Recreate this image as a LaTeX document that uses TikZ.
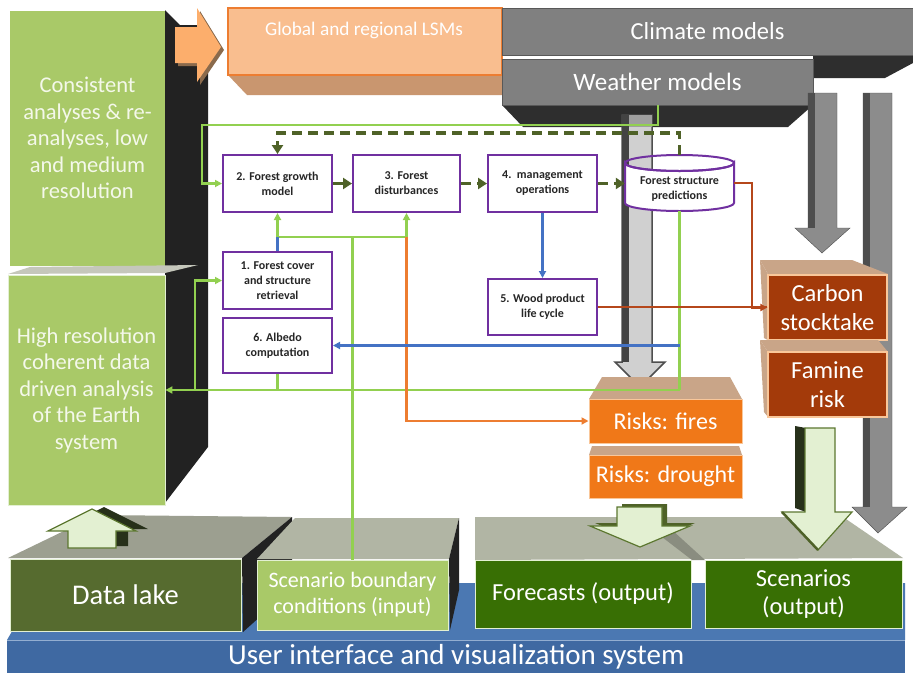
\documentclass[tikz,border=0pt]{standalone}
\usepackage{fontspec}
\setmainfont{Carlito}
\usetikzlibrary{arrows.meta,calc}
\definecolor{lgreen}{HTML}{A9C968}
\definecolor{lgreenTxt}{HTML}{F4F8EA}
\definecolor{panel}{HTML}{222222}
\definecolor{lsmfill}{HTML}{F9BE8F}
\definecolor{lsmdraw}{HTML}{ED7D31}
\definecolor{lsmside}{HTML}{C9966F}
\definecolor{arrorange}{HTML}{FCAE6C}
\definecolor{arrshadow}{HTML}{8A6A4C}
\definecolor{gfront}{HTML}{808080}
\definecolor{gdark}{HTML}{2E2E2E}
\definecolor{proc}{HTML}{7030A0}
\definecolor{olivearr}{HTML}{4F6228}
\definecolor{glink}{HTML}{92D050}
\definecolor{blink}{HTML}{4472C4}
\definecolor{olink}{HTML}{ED7D31}
\definecolor{rlink}{HTML}{B5471B}
\definecolor{riskfill}{HTML}{F07818}
\definecolor{riskedge}{HTML}{F9C79A}
\definecolor{tanface}{HTML}{C9A588}
\definecolor{carbfill}{HTML}{A33A0A}
\definecolor{topface}{HTML}{B1B5A4}
\definecolor{dlfront}{HTML}{566B2F}
\definecolor{fcfront}{HTML}{386F04}
\definecolor{uiblue}{HTML}{3F69A2}
\definecolor{uitop}{HTML}{4B78B2}
\definecolor{paleg}{HTML}{E3F0D2}
\definecolor{arredge}{HTML}{5C7730}
\definecolor{arrdark}{HTML}{27301A}
\definecolor{bigarr}{HTML}{8C8C8C}
\definecolor{bigarrdk}{HTML}{4E4E4E}
\definecolor{cgray}{HTML}{D0D0D0}
\begin{document}
\begin{tikzpicture}[x=1pt,y=-1pt,
  big/.style={inner sep=0pt, align=center, text=white},
  pbox/.style={draw=proc, line width=2pt, fill=white, minimum width=109pt, minimum height=57pt, inner sep=0pt, align=center, text=black!85, font=\bfseries\fontsize{12}{15}\selectfont},
  oliv/.style={draw=olivearr, line width=3.8pt, -{Triangle[length=9pt,width=11pt]}},
  olivdash/.style={oliv, dash pattern=on 10pt off 6pt},
  gl/.style={draw=glink, line width=2.2pt},
  bl/.style={draw=blink, line width=2.2pt},
  ol/.style={draw=olink, line width=2.4pt},
  rl/.style={draw=rlink, line width=2.2pt},
  endtip/.style={-{Triangle[length=7pt,width=7pt]}},
  paleArrow/.style={fill=paleg, draw=arredge, line width=1.2pt},
]
\useasboundingbox (0,0) rectangle (913,673);
\fill[white] (0,0) rectangle (913,673);

% ---------- blue base ----------
\fill[uitop] (7,640) -- (40,583) -- (905,583) -- (905,640) -- cycle;
\node[big, fill=uiblue, minimum width=898pt, minimum height=33pt, anchor=north west,
      font=\fontsize{29}{34}\selectfont] (ui) at (7,640) {User interface and visualization system};
\draw[uitop!60!white, line width=1pt] (7,640) -- (905,640);

% ---------- bottom blocks ----------
\fill[topface!88!black] (8,558) -- (97,515) -- (292,517) -- (242,558) -- cycle;
\fill[panel] (242,558) -- (292,517) -- (292,588) -- (243,632) -- cycle;
\node[big, fill=dlfront, draw=paleg, line width=1pt, minimum width=231pt, minimum height=72pt,
      font=\fontsize{28.5}{33}\selectfont] (dl) at (125.5,595) {Data lake};

\fill[topface] (257,559) -- (295,518) -- (459,518) -- (449,559) -- cycle;
\fill[panel] (449,559) -- (459,518) -- (459,590) -- (450,630) -- cycle;
\node[big, fill=lgreen, draw=paleg, line width=1pt, minimum width=191pt, minimum height=70pt,
      font=\fontsize{22}{26}\selectfont] (sbc) at (352.5,595) {Scenario boundary\\conditions (input)};

\fill[topface] (475,560) -- (475,517) -- (843,517) -- (903,558) -- cycle;
\fill[topface!78!black] (662,537) -- (672,530) -- (705,560) -- (692,560) -- cycle;
\node[big, fill=fcfront, draw=paleg, line width=1pt, minimum width=216pt, minimum height=68pt,
      font=\fontsize{24.5}{28}\selectfont] (fc) at (583,594) {Forecasts (output)};
\node[big, fill=fcfront, draw=paleg, line width=1pt, minimum width=197pt, minimum height=68pt,
      font=\fontsize{24.5}{28}\selectfont] (sc) at (803.5,594) {Scenarios\\(output)};

% ---------- left panel ----------
\fill[panel] (165,10) -- (180,25) -- (208,25) -- (208,447) -- (165,503) -- cycle;
\node[big, fill=lgreen, minimum width=155pt, minimum height=255pt, text=lgreenTxt,
      font=\fontsize{22.5}{26.5}\selectfont] (ca) at (87.5,138) {Consistent\\analyses \& re-\\analyses, low\\and medium\\resolution};
\fill[topface!75!white] (8,274) -- (30,267) -- (198,265) -- (165,273) -- cycle;
\node[big, fill=lgreen, draw=paleg, line width=0.8pt, minimum width=157pt, minimum height=230pt, text=lgreenTxt,
      font=\fontsize{22.5}{26.5}\selectfont] (hr) at (86.5,390) {High resolution\\coherent data\\driven analysis\\of the Earth\\system};

% ---------- orange arrow and LSM ----------
\fill[arrshadow] (178,30) -- (200,30) -- (200,11) -- (224,50) -- (200,85) -- (200,66) -- (178,66) -- cycle;
\fill[arrorange] (175,27) -- (197,27) -- (197,8) -- (221,47) -- (197,82) -- (197,63) -- (175,63) -- cycle;
\fill[lsmside] (228,75) -- (247,95) -- (502,95) -- (502,75) -- cycle;
\node[draw=lsmdraw, fill=lsmfill, line width=1.2pt, minimum width=274pt, minimum height=67pt, inner sep=0pt] (lsm) at (365,41.5) {};
\node[big, font=\fontsize{19.3}{22}\selectfont] (lsmtxt) at (364,30) {Global and regional LSMs};

% ---------- climate / weather ----------
\fill[gdark] (813,55) -- (913,55) -- (913,63) -- (885,78) -- (813,78) -- cycle;
\node[big, fill=gfront, draw=gdark!80, line width=0.8pt, minimum width=411pt, minimum height=47pt,
      font=\fontsize{24.5}{28}\selectfont] (cm) at (707.5,31.5) {Climate models};
\fill[gdark] (502,105) -- (813,105) -- (788,127) -- (523,127) -- cycle;
\node[big, fill=gfront, draw=gdark!80, line width=0.8pt, minimum width=311pt, minimum height=46pt,
      font=\fontsize{25}{28}\selectfont] (wm) at (657.5,82) {Weather models};

% ---------- big gray arrows ----------
\filldraw[fill=bigarr, draw=bigarrdk] (808,93) -- (837,93) -- (837,228) -- (850,228) -- (822,253) -- (795,228) -- (808,228) -- cycle;
\fill[bigarrdk] (808,93) rectangle (815,228);
\filldraw[fill=bigarr, draw=bigarrdk] (863,93) -- (892,93) -- (892,507) -- (907,507) -- (878,533) -- (852,507) -- (863,507) -- cycle;
\fill[bigarrdk] (863,93) rectangle (870,507);
% central light arrow
\filldraw[fill=cgray, draw=bigarrdk, line width=1.5pt] (622,115) -- (652,115) -- (652,362) -- (665,362) -- (640,387) -- (615,362) -- (622,362) -- cycle;
\fill[panel!85] (622,115) rectangle (629,362);
\fill[gray!75] (629,115) rectangle (652,127);

% ---------- risks ----------
\fill[tanface] (589,399) -- (602,377) -- (730,377) -- (742,399) -- cycle;
\node[big, fill=riskfill, draw=riskedge, line width=1pt, minimum width=153pt, minimum height=44pt,
      font=\fontsize{24}{29}\selectfont] (fires) at (665.5,421) {Risks: fires};
\fill[tanface] (589,455) -- (592,446) -- (739,446) -- (742,455) -- cycle;
\node[big, fill=riskfill, draw=riskedge, line width=1pt, minimum width=153pt, minimum height=43pt,
      font=\fontsize{24}{29}\selectfont] (drought) at (665.5,476.5) {Risks: drought};

% ---------- carbon / famine ----------
\fill[tanface] (760,260) -- (852,260) -- (888,274) -- (768,274) -- cycle;
\fill[tanface] (760,260) -- (768,274) -- (768,340) -- (764,338) -- cycle;
\node[big, fill=carbfill, draw=riskedge, line width=1.2pt, minimum width=119pt, minimum height=65pt,
      font=\fontsize{24.5}{29}\selectfont] (cs) at (827.5,307.5) {Carbon\\stocktake};
\fill[tanface] (760,340) -- (878,340) -- (888,352) -- (768,352) -- cycle;
\fill[tanface] (760,340) -- (768,352) -- (768,417) -- (764,412) -- cycle;
\node[big, fill=carbfill, draw=riskedge, line width=1.2pt, minimum width=119pt, minimum height=65pt,
      font=\fontsize{24.5}{29}\selectfont] (fr) at (827.5,384.5) {Famine\\risk};

% ---------- pale 3D arrows ----------
\fill[arrdark] (795,426) -- (806,428) -- (806,512) -- (795,508) -- cycle;
\filldraw[paleArrow] (805,428) -- (835,428) -- (835,512) -- (852,512) -- (818,550) -- (782,512) -- (805,512) -- cycle;
\draw[olivearr, line width=2.5pt] (782,512) -- (818,550);
\fill[olivearr] (622,504) -- (667,504) -- (667,523) -- (695,523) -- (645,544) -- (595,523) -- (622,523) -- cycle;
\filldraw[paleArrow] (617,507) -- (662,507) -- (662,526) -- (690,526) -- (640,547) -- (590,526) -- (617,526) -- cycle;
\fill[arrdark] (80,546) -- (128,546) -- (128,529) -- (148,529) -- (104,507) -- (60,529) -- (80,529) -- cycle;
\filldraw[paleArrow] (68,548) -- (116,548) -- (116,531) -- (136,531) -- (92,509) -- (48,531) -- (68,531) -- cycle;

% ---------- process boxes ----------
\node[pbox] (b2) at (277.5,183.5) {2. Forest growth\\model};
\node[pbox, minimum width=107pt] (b3) at (406.5,183.5) {3. Forest\\disturbances};
\node[pbox] (b4) at (542.5,183.5) {4.\ \ management\\operations};
\node[pbox] (b1) at (277.5,280.5) {1. Forest cover\\and structure\\retrieval};
\node[pbox, minimum height=55pt] (b6) at (277.5,345.5) {6. Albedo\\computation};
\node[pbox, minimum height=56pt] (b5) at (542.5,307) {5. Wood product\\life cycle};

% cylinder
\node[minimum width=109pt, minimum height=56pt, inner sep=0pt] (fsp) at (679.5,183) {};
\filldraw[draw=proc, fill=white, line width=2pt] (625,163) -- (625,203)
   arc[start angle=180, end angle=0, x radius=54.5, y radius=8] -- (734,163)
   arc[start angle=0, end angle=180, x radius=54.5, y radius=8] -- cycle;
\draw[draw=proc, line width=2pt] (679.5,163) ellipse[x radius=54.5, y radius=8];
\node[inner sep=0pt, align=center, text=black!85, font=\bfseries\fontsize{12}{15}\selectfont] (fsptxt) at (679.5,189.5) {Forest structure\\predictions};

% ---------- connectors ----------
\coordinate (wmo) at (658,105);
\coordinate (gy) at (679.5,390);
\coordinate (gb) at (195,390);
\coordinate (jn) at (277.5,237);

\draw[gl, endtip] (wmo) -- ++(0,20) -| ($(b2.west)+(-20,0)$) -- (b2.west);
\draw[olivdash] (fsp.north) -- ++(0,-22) -| (b2.north);
\draw[oliv] (b2.east) -- (b3.west);
\draw[olivdash] (b3.east) -- (b4.west);
\draw[olivdash] (b4.east) -- (b4.east -| fsp.west);

\draw[gl] (fsp.south) -- (gy);
\draw[gl, endtip] (gy) -- (gy -| hr.east);
\draw[gl] (b6.south) -- (b6.south |- gy);
\draw[gl, endtip] (gb) |- (b1.west);

\draw[gl] (sbc.north) -- (sbc.north |- jn);
\draw[gl] (jn) -- (jn -| b3.south);
\draw[gl, endtip] (jn) -- (b2.south);
\draw[gl, endtip] (jn -| b3.south) -- (b3.south);
\draw[bl] (b1.north) -- (jn);
\draw[ol, endtip] (jn -| b3.south) |- (fires.west);

\draw[bl, endtip] (b4.south) -- (b5.north);
\draw[bl, endtip] (fsp.south |- b6.east) -- (b6.east);

\draw[rl, endtip] (fsp.east) -- ++(18,0) |- (cs.west);
\draw[rl] (b5.east) -- (b5.east -| cs.west);
\end{tikzpicture}
\end{document}
